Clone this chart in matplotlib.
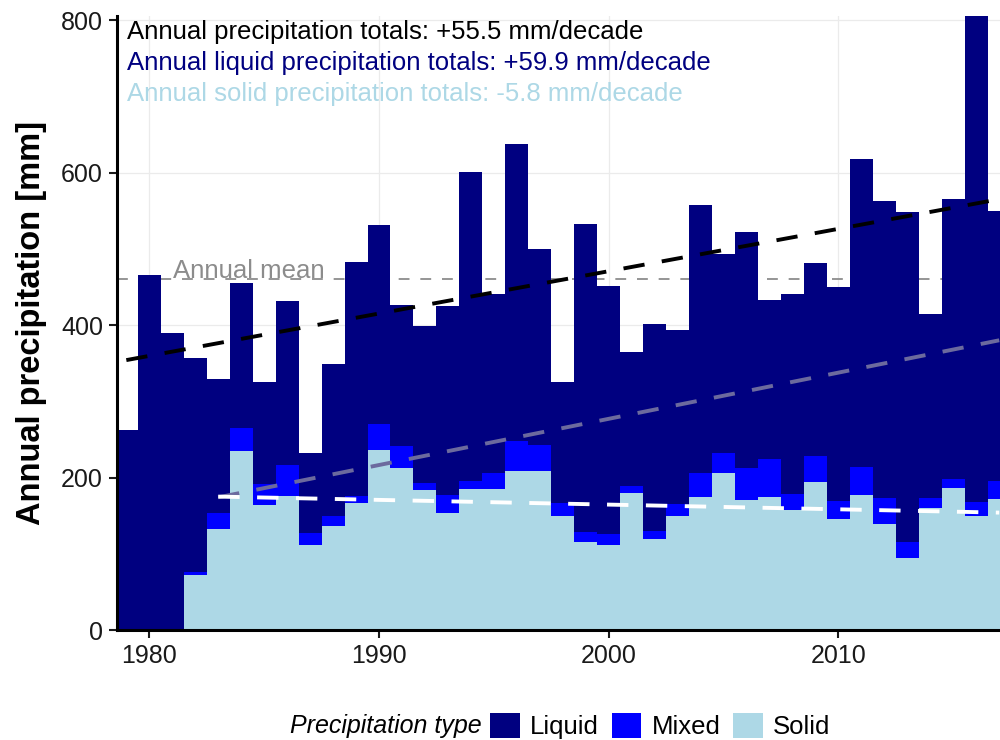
import matplotlib
matplotlib.use("Agg")
import matplotlib.pyplot as plt
from matplotlib.patches import Patch
import numpy as np

plt.rcParams['font.family'] = ['Liberation Sans', 'DejaVu Sans']

years = list(range(1979, 2018))
solid = [0, 0, 0, 72, 133, 235, 164, 176, 111, 137, 166, 236, 213, 184, 154, 185, 185, 209, 208,
         150, 115, 111, 180, 119, 150, 174, 206, 171, 174, 157, 194, 146, 177, 139, 95, 160, 186, 149, 172]
mixed = [0, 0, 0, 4, 21, 30, 28, 40, 16, 13, 10, 34, 29, 9, 23, 10, 21, 39, 35,
         17, 13, 15, 9, 11, 15, 32, 26, 41, 50, 21, 34, 23, 37, 34, 20, 13, 12, 19, 24]
liquid = [262, 466, 390, 281, 175, 190, 133, 215, 105, 199, 307, 261, 184, 206, 248, 406, 235, 389, 257,
          158, 405, 325, 175, 271, 229, 351, 261, 310, 209, 263, 253, 281, 404, 390, 433, 242, 367, 638, 354]

annual_mean = 460
total_trend_x = [1979, 2017]
total_trend_y = [354, 565]
liquid_trend_x = [1983, 2017]
liquid_trend_y = [174, 380]
solid_trend_x = [1983, 2017]
solid_trend_y = [175, 154]

col_liquid = '#000080'
col_mixed = '#0000FF'
col_solid = '#ADD8E6'

fig = plt.figure(figsize=(10, 7.4), dpi=100)
ax = fig.add_axes([0.117, 0.1486, 0.883, 0.8295])

yrs = np.array(years)
s = np.array(solid)
m = np.array(mixed)
l = np.array(liquid)

ax.bar(yrs, s, width=1.0, color=col_solid, linewidth=0, zorder=3)
ax.bar(yrs, m, width=1.0, bottom=s, color=col_mixed, linewidth=0, zorder=3)
ax.bar(yrs, l, width=1.0, bottom=s + m, color=col_liquid, linewidth=0, zorder=3)

ax.axhline(annual_mean, color='#8c8c8c', lw=1.3, ls=(0, (6, 6)), zorder=2)
ax.text(1981.03, annual_mean + 2, 'Annual mean', color='#8c8c8c', fontsize=18.5,
        ha='left', va='baseline', zorder=2)

dash = (0, (5.5, 4.5))
ax.plot(total_trend_x, total_trend_y, color='black', lw=2.8, ls=dash, zorder=5)
ax.plot(liquid_trend_x, liquid_trend_y, color='#6c6a9e', lw=2.8, ls=dash, zorder=5)
ax.plot(solid_trend_x, solid_trend_y, color='white', lw=2.8, ls=dash, zorder=5)

ax.set_xlim(1978.594, 2017.033)
ax.set_ylim(0, 805)
ax.set_xticks([1980, 1990, 2000, 2010])
ax.set_yticks([0, 200, 400, 600, 800])
ax.tick_params(axis='both', labelsize=18, colors='#1a1a1a', length=6, width=1.5, pad=4)
ax.grid(True, color='#ebebeb', lw=0.9, zorder=0)
ax.set_axisbelow(True)
for sp in ['top', 'right']:
    ax.spines[sp].set_visible(False)
for sp in ['left', 'bottom']:
    ax.spines[sp].set_linewidth(2.2)
    ax.spines[sp].set_color('black')
    ax.spines[sp].set_zorder(6)

ax.set_ylabel('Annual precipitation [mm]', fontsize=23.5, fontweight='bold', labelpad=10)

fig.text(0.127, 1 - 39.3 / 740, 'Annual precipitation totals: +55.5 mm/decade', color='black',
         fontsize=18.5, va='baseline', ha='left')
fig.text(0.127, 1 - 70 / 740, 'Annual liquid precipitation totals: +59.9 mm/decade', color=col_liquid,
         fontsize=18.5, va='baseline', ha='left')
fig.text(0.127, 1 - 100.7 / 740, 'Annual solid precipitation totals: -5.8 mm/decade', color=col_solid,
         fontsize=18.5, va='baseline', ha='left')

handles = [Patch(facecolor=col_liquid, edgecolor='none', label='Liquid'),
           Patch(facecolor=col_mixed, edgecolor='none', label='Mixed'),
           Patch(facecolor=col_solid, edgecolor='none', label='Solid')]
fig.text(0.482, 1 - 733 / 740, 'Precipitation type', fontsize=18, style='italic', ha='right', va='baseline')
fig.legend(handles=handles, loc='center left', bbox_to_anchor=(0.49, 1 - 726 / 740), ncol=3,
           frameon=False, fontsize=18.5, handlelength=1.15, handleheight=1.15,
           handletextpad=0.4, columnspacing=0.5, borderpad=0, borderaxespad=0)

fig.savefig('out.png', dpi=100)
